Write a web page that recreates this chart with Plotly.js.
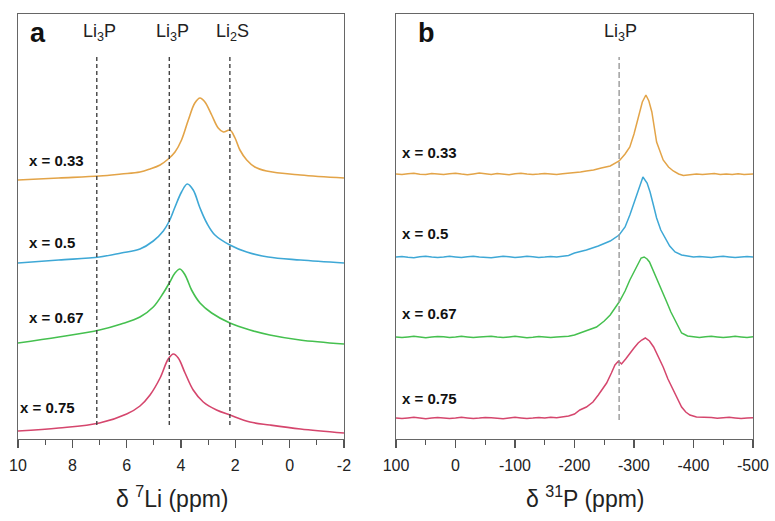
<!DOCTYPE html>
<html>
<head>
<meta charset="utf-8">
<script src="https://cdn.plot.ly/plotly-3.0.1.min.js"></script>
<style>
  html, body { margin: 0; padding: 0; background: #fff; }
  #chart { width: 775px; height: 521px; }
</style>
</head>
<body>
<div id="chart"></div>
<script>
// compositions, top to bottom
var compositions = ['0.33', '0.5', '0.67', '0.75'];

// 7Li spectra (ppm, stacked intensity)
var li7_x033 = [10, 8.5, 7, 6.2, 5.51, 5.14, 4.77, 4.47, 4.22, 3.98, 3.73, 3.49, 3.3, 3.12, 2.87, 2.63, 2.44, 2.2, 2.01, 1.83, 1.58, 1.28, 0.85, -0.4, -2];
var li7_y033 = [259, 261, 263, 265, 267, 270, 274, 280, 287, 299, 319, 336, 341, 337, 324, 311, 307, 309, 301, 289, 279, 272, 268, 264, 261];
var li7_x05 = [10, 8.5, 7, 6.2, 5.51, 5.02, 4.65, 4.43, 4.22, 3.98, 3.77, 3.55, 3.3, 3.05, 2.75, 2.2, 1.58, 0.79, -0.4, -2];
var li7_y05 = [176, 179, 182, 186, 190, 198, 208, 218, 232, 247, 255, 249, 231, 216, 204, 194, 187, 182, 179, 176];
var li7_x067 = [10, 8.5, 7, 6.2, 5.51, 5.02, 4.65, 4.41, 4.22, 4.04, 3.85, 3.61, 3.3, 2.87, 2.2, 1.46, 0.73, -0.38, -2];
var li7_y067 = [96, 102, 109, 115, 122, 132, 146, 157, 166, 170, 164, 149, 136, 126, 116, 109, 104, 99, 95];
var li7_x075 = [10, 8.5, 7, 6.0, 5.51, 5.14, 4.77, 4.47, 4.28, 4.1, 3.85, 3.55, 3.18, 2.69, 2.2, 1.46, 0.73, -0.4, -2];
var li7_y075 = [8, 11, 16, 25, 33, 44, 61, 80, 85, 81, 66, 49, 37, 29, 24, 17, 14, 10, 6];

// 31P spectra (ppm, stacked intensity)
var p31_x033 = [100, 90, 80, 70, 60, 50, 40, 30, 20, 10, 0, -10, -20, -30, -40, -50, -60, -70, -80, -90,
  -100, -110, -120, -130, -140, -150, -160, -170, -180, -190, -200, -210, -220, -232, -245, -260, -275, -285, -293, -300,
  -307, -314, -320, -325, -330, -338, -349, -358, -366, -375, -383, -395, -405, -415, -425, -435, -445, -455, -465, -475, -485, -500];
var p31_y033 = [265, 264.5, 265.3, 265.8, 264.8, 264.4, 265.6, 265, 264.6, 265.2, 265.7, 264.9, 264.3, 265.1, 265.9, 265.2, 264.5, 265.4, 264.8, 264.3,
  265.2, 265.8, 265, 264.4, 264.9, 265.6, 265.1, 264.5, 265.3, 265.9, 266, 267, 268, 269, 271, 273, 278, 285, 292, 305,
  321, 337, 344, 338, 327, 297, 279, 272, 268, 265, 263.5, 264.3, 265, 264.4, 264.9, 265.5, 264.6, 265.1, 264.5, 265.2, 264.6, 265];
var p31_x05 = [100, 90, 80, 70, 60, 50, 40, 30, 20, 10, 0, -10, -20, -30, -40, -50, -60, -70, -80, -90,
  -100, -110, -120, -130, -140, -150, -160, -170, -180, -190, -200, -220, -240, -260, -275, -285, -293, -300, -307, -315,
  -322, -327, -333, -338, -345, -352, -360, -369, -380, -390, -400, -410, -420, -430, -440, -450, -460, -470, -480, -490, -500];
var p31_y05 = [182, 182.6, 181.8, 181.3, 182.2, 182.8, 182, 181.4, 181.9, 182.7, 182.1, 181.5, 182.3, 182.8, 181.9, 181.6, 181.2, 182, 182.7, 182.2,
  181.5, 182.1, 182.8, 182.3, 181.6, 181.9, 182.6, 182.1, 182.8, 183.6, 186, 189, 193, 198, 204, 212, 224, 236, 250, 262,
  256, 247, 233, 221, 209, 201, 193, 187, 184, 183, 182, 182.6, 181.9, 181.4, 182.2, 182.7, 182.1, 181.5, 182, 182.6, 182.1];
var p31_x067 = [100, 90, 80, 70, 60, 50, 40, 30, 20, 10, 0, -10, -20, -30, -40, -50, -60, -70, -80, -90,
  -100, -110, -120, -130, -140, -150, -160, -170, -180, -190, -200, -209, -220, -237, -250, -260, -275, -285, -293, -300,
  -307, -312, -317, -322, -326, -332, -338, -346, -355, -362, -369, -375, -380, -390, -400, -410, -420, -430, -440, -450,
  -460, -470, -480, -490, -500];
var p31_y067 = [102, 101.4, 102.1, 102.7, 102, 101.3, 101.9, 102.6, 102.2, 101.5, 102, 102.8, 102.1, 101.4, 101.9, 102.3, 102.8, 102, 101.4, 102.1,
  102.7, 102, 101.3, 101.8, 102.6, 102.1, 101.5, 102, 102.1, 102.8, 104, 106, 108, 112, 118, 124, 137, 148, 159, 167,
  176, 181, 182, 180, 177, 169, 161, 150, 137, 127, 119, 112, 106, 103, 102, 101.5, 102.2, 102.8, 102.1, 101.4,
  102, 102.7, 102.1, 101.5, 102.2];
var p31_x075 = [100, 90, 80, 70, 60, 50, 40, 30, 20, 10, 0, -10, -20, -30, -40, -50, -60, -70, -80, -90,
  -100, -110, -120, -130, -140, -150, -160, -170, -180, -190, -200, -209, -220, -231, -240, -254, -262, -268, -274, -279,
  -286, -293, -300, -307, -313, -319, -326, -333, -341, -349, -357, -366, -373, -380, -387, -394, -405, -416, -430, -440,
  -450, -460, -470, -480, -490, -500];
var p31_y075 = [21, 20.4, 21.1, 21.7, 21, 20.3, 20.9, 21.6, 21.1, 20.5, 21, 21.7, 21.1, 20.4, 20.9, 21.6, 21.2, 20.8, 20.3, 21,
  21.7, 21.1, 20.4, 20.9, 21.6, 21.1, 21.8, 21.2, 22, 23, 25, 29, 32, 37, 44, 56, 66, 74, 78, 75,
  80, 86, 91, 96, 99, 101, 98, 92, 82, 72, 60, 49, 40, 32, 27, 24, 22, 22, 21.4, 20.7,
  21.2, 21.8, 21.1, 20.5, 21.1, 21.3];

// reference shifts
var li7RefShifts = [7.1, 4.43, 2.2];
var li7RefLabels = ['Li<sub>3</sub>P', 'Li<sub>3</sub>P', 'Li<sub>2</sub>S'];
var p31RefShifts = [-275];
var p31RefLabels = ['Li<sub>3</sub>P'];

// tick labels (plain hyphen as in the original)
var li7TickVals = [10, 8, 6, 4, 2, 0, -2];
var li7TickText = ['10', '8', '6', '4', '2', '0', '-2'];
var p31TickVals = [100, 0, -100, -200, -300, -400, -500];
var p31TickText = ['100', '0', '-100', '-200', '-300', '-400', '-500'];

// label heights (stacked intensity units)
var li7LabelY = [279, 197, 122, 32];
var p31LabelY = [287, 206, 126, 41];

var colors = ['#E3A448', '#3EA8D6', '#45C04F', '#D5466D'];
var font = 'Liberation Sans, Arial, sans-serif';

var li7X = [li7_x033, li7_x05, li7_x067, li7_x075];
var li7Y = [li7_y033, li7_y05, li7_y067, li7_y075];
var p31X = [p31_x033, p31_x05, p31_x067, p31_x075];
var p31Y = [p31_y033, p31_y05, p31_y067, p31_y075];

var traces = [];
var annotations = [];
var shapes = [];

for (var i = 0; i < compositions.length; i++) {
  traces.push({
    x: li7X[i], y: li7Y[i], xaxis: 'x', yaxis: 'y',
    mode: 'lines', type: 'scatter', line: {color: colors[i], width: 1.6, shape: 'spline', smoothing: 1},
    hoverinfo: 'skip', showlegend: false
  });
  traces.push({
    x: p31X[i], y: p31Y[i], xaxis: 'x2', yaxis: 'y2',
    mode: 'lines', type: 'scatter', line: {color: colors[i], width: 1.5},
    hoverinfo: 'skip', showlegend: false
  });
  annotations.push({
    text: '<b>x = ' + compositions[i] + '</b>', xref: 'x domain', yref: 'y',
    x: i === 3 ? 0.0 : 0.028, y: li7LabelY[i], xanchor: 'left', yanchor: 'middle', showarrow: false,
    font: {family: font, size: 15, color: '#111'}
  });
  annotations.push({
    text: '<b>x = ' + compositions[i] + '</b>', xref: 'x2 domain', yref: 'y2',
    x: 0.01, y: p31LabelY[i], xanchor: 'left', yanchor: 'middle', showarrow: false,
    font: {family: font, size: 15, color: '#111'}
  });
}

li7RefShifts.forEach(function(s, k) {
  shapes.push({type: 'line', xref: 'x', yref: 'y', x0: s, x1: s, y0: 14, y1: 382,
    line: {color: '#444', width: 1.4, dash: '4px,3px'}});
  annotations.push({text: li7RefLabels[k], xref: 'x', yref: 'y', x: s, y: 407,
    xanchor: 'center', yanchor: 'middle', showarrow: false, xshift: 3,
    font: {family: font, size: 18, color: '#222'}});
});
p31RefShifts.forEach(function(s, k) {
  shapes.push({type: 'line', xref: 'x2', yref: 'y2', x0: s, x1: s, y0: 19, y1: 382,
    line: {color: '#999', width: 1.4, dash: '6px,3px'}});
  annotations.push({text: p31RefLabels[k], xref: 'x2', yref: 'y2', x: s, y: 407,
    xanchor: 'center', yanchor: 'middle', showarrow: false, xshift: 1,
    font: {family: font, size: 18, color: '#222'}});
});

// panel letters and axis titles
annotations.push({text: '<b>a</b>', xref: 'x domain', yref: 'paper', x: 0.03, y: 0.955,
  xanchor: 'left', yanchor: 'middle', showarrow: false, font: {family: font, size: 27, color: '#111'}});
annotations.push({text: '<b>b</b>', xref: 'x2 domain', yref: 'paper', x: 0.055, y: 0.955,
  xanchor: 'left', yanchor: 'middle', showarrow: false, font: {family: font, size: 27, color: '#111'}});
annotations.push({text: 'δ <sup>7</sup>Li (ppm)', xref: 'x domain', yref: 'paper', x: 0.474, y: -0.136,
  xanchor: 'center', yanchor: 'middle', showarrow: false, font: {family: font, size: 23, color: '#222'}});
annotations.push({text: 'δ <sup>31</sup>P (ppm)', xref: 'x2 domain', yref: 'paper', x: 0.53, y: -0.136,
  xanchor: 'center', yanchor: 'middle', showarrow: false, font: {family: font, size: 23, color: '#222'}});

var xBase = {
  showline: true, mirror: true, linecolor: '#666', linewidth: 1.2,
  ticks: 'outside', ticklen: 8, tickwidth: 1.2, tickcolor: '#555', tickmode: 'array',
  showgrid: false, zeroline: false, fixedrange: true, ticklabelstandoff: 4,
  tickfont: {family: font, size: 16, color: '#222'}
};
var yBase = {
  range: [0, 425], showline: true, mirror: true, linecolor: '#666', linewidth: 1.2,
  ticks: '', showticklabels: false, showgrid: false, zeroline: false, fixedrange: true
};

var layout = {
  width: 775, height: 521,
  margin: {l: 18, r: 22, t: 14, b: 82},
  paper_bgcolor: '#fff', plot_bgcolor: '#fff',
  xaxis: Object.assign({}, xBase, {domain: [0, 0.4435], range: [10, -2],
    tickvals: li7TickVals, ticktext: li7TickText,
    minor: {dtick: 1, ticks: 'outside', ticklen: 5, tickcolor: '#555'}}),
  xaxis2: Object.assign({}, xBase, {domain: [0.5143, 1], range: [100, -500], anchor: 'y2',
    tickvals: p31TickVals, ticktext: p31TickText,
    minor: {dtick: 50, ticks: 'outside', ticklen: 5, tickcolor: '#555'}}),
  yaxis: Object.assign({}, yBase, {anchor: 'x'}),
  yaxis2: Object.assign({}, yBase, {anchor: 'x2'}),
  shapes: shapes,
  annotations: annotations
};

Plotly.newPlot('chart', traces, layout, {displayModeBar: false, staticPlot: true});
</script>
</body>
</html>
